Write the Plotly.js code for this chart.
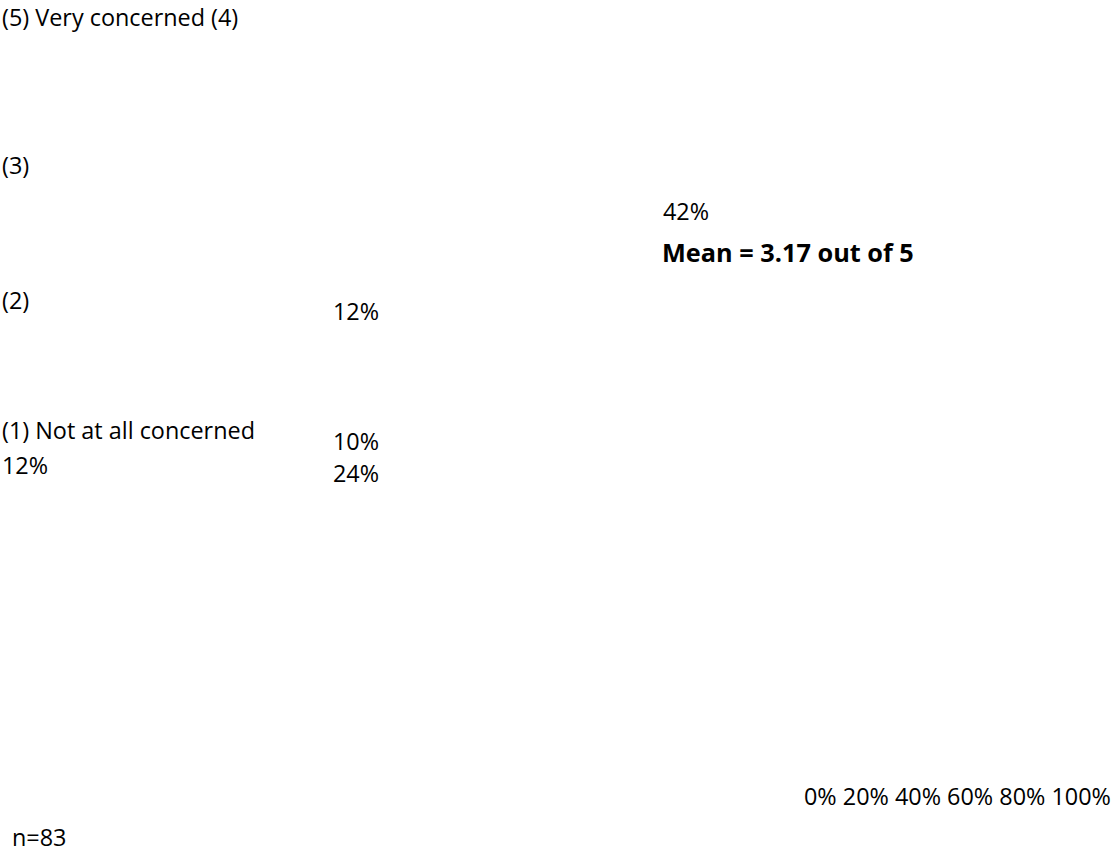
<!DOCTYPE html>
<html>
<head>
<meta charset="utf-8">
<script src="https://cdn.plot.ly/plotly-3.0.1.min.js"></script>
<style>html,body{margin:0;padding:0;background:#fff;}#chart{width:1113px;height:855px;}</style>
</head>
<body>
<div id="chart"></div>
<script>
// Data
const categoryLabels = ["(5) Very concerned (4)", "(3)", "(2)", "(1) Not at all concerned"];
const leftValues = [12];            // shown under the category labels
const middleValues = [12, 10, 24];  // middle column of shares
const rightValues = [42];           // share shown at right
const meanScore = 3.17;
const scaleMax = 5;
const tickValues = [0, 20, 40, 60, 80, 100];
const sampleSize = 83;

const W = 1113, H = 855;
const font = {family: "Open Sans, sans-serif", size: 23.4, color: "#000"};
const py = p => 1 - p / H;
const px = p => p / W;

const catY = [17, 165, 300, 430];
const leftY = [465];
const midY = [311, 441, 473];
const rightY = [211];

const ann = [];
categoryLabels.forEach((t, i) => ann.push({text: t, x: px(1), y: py(catY[i])}));
leftValues.forEach((v, i) => ann.push({text: v + "%", x: px(1), y: py(leftY[i])}));
middleValues.forEach((v, i) => ann.push({text: v + "%", x: px(332), y: py(midY[i])}));
rightValues.forEach((v, i) => ann.push({text: v + "%", x: px(662), y: py(rightY[i])}));
ann.push({text: "<b>Mean = " + meanScore.toFixed(2) + " out of " + scaleMax + "</b>", x: px(661), y: py(252), font: Object.assign({}, font, {size: 25.3})});
ann.push({text: tickValues.map(v => v + "%").join(" "), x: px(1112), y: py(796), xanchor: "right"});
ann.push({text: "n=" + sampleSize, x: px(11), y: py(837)});

const annotations = ann.map(a => Object.assign({
  xref: "paper", yref: "paper", xanchor: "left", yanchor: "middle",
  showarrow: false, font: font, borderpad: 0
}, a));

Plotly.newPlot("chart", [], {
  width: W, height: H,
  margin: {l: 0, r: 0, t: 0, b: 0},
  paper_bgcolor: "#fff", plot_bgcolor: "#fff",
  xaxis: {visible: false}, yaxis: {visible: false},
  showlegend: false,
  annotations: annotations
}, {displayModeBar: false, staticPlot: true});
</script>
</body>
</html>
